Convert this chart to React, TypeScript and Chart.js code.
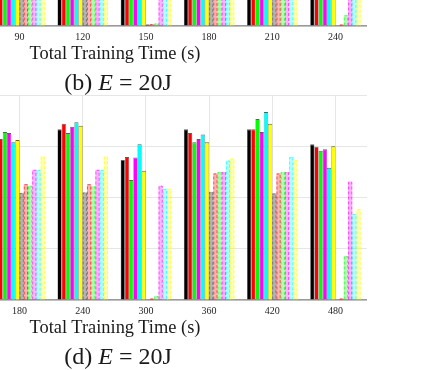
import React, { useEffect, useRef } from 'react';
import { Chart, registerables } from 'chart.js';

Chart.register(...registerables);

// ---------- data ----------
const topLabels = ['90', '120', '150', '180', '210', '240'];
const bottomLabels = ['180', '240', '300', '360', '420', '480'];

const seriesNames = [
  'Scheme 1', 'Scheme 2', 'Scheme 3', 'Scheme 4', 'Scheme 5', 'Scheme 6',
  'Scheme 1 (baseline)', 'Scheme 2 (baseline)', 'Scheme 3 (baseline)',
  'Scheme 4 (baseline)', 'Scheme 5 (baseline)', 'Scheme 6 (baseline)',
];
const seriesColors = ['0,0,0', '255,0,0', '0,255,0', '255,0,255', '0,255,255', '255,255,0'];

// upper panel (b): only the lowest part is visible
const topS1 = [3.1, 3.3, 2.7, 3.3, 3.3, 3.0];
const topS2 = [3.2, 3.4, 2.8, 3.3, 3.3, 3.0];
const topS3 = [3.3, 3.3, 2.3, 3.1, 3.5, 2.9];
const topS4 = [3.2, 3.4, 2.8, 3.1, 3.3, 2.9];
const topS5 = [3.1, 3.4, 3.0, 3.2, 3.7, 2.6];
const topS6 = [3.1, 3.4, 2.5, 3.1, 3.4, 3.0];
const topP1 = [2.1, 2.1, 0.03, 2.1, 2.1, 0];
const topP2 = [2.3, 2.3, 0.04, 2.5, 2.5, 0.03];
const topP3 = [2.2, 2.2, 0.05, 2.5, 2.5, 0.21];
const topP4 = [2.5, 2.5, 2.2, 2.5, 2.5, 2.3];
const topP5 = [2.5, 2.5, 2.2, 2.7, 2.8, 1.7];
const topP6 = [2.8, 2.8, 2.2, 2.8, 2.7, 1.8];

// lower panel (d)
const botS1 = [3.1, 3.33, 2.73, 3.33, 3.33, 3.04];
const botS2 = [3.14, 3.44, 2.79, 3.26, 3.33, 2.99];
const botS3 = [3.28, 3.26, 2.34, 3.08, 3.53, 2.91];
const botS4 = [3.26, 3.38, 2.78, 3.14, 3.28, 2.94];
const botS5 = [3.08, 3.47, 3.04, 3.23, 3.67, 2.58];
const botS6 = [3.12, 3.4, 2.52, 3.08, 3.44, 3.0];
const botP1 = [2.09, 2.1, 0, 2.11, 2.08, 0];
const botP2 = [2.26, 2.26, 0.03, 2.47, 2.47, 0.03];
const botP3 = [2.23, 2.22, 0.08, 2.5, 2.5, 0.86];
const botP4 = [2.54, 2.54, 2.23, 2.5, 2.5, 2.31];
const botP5 = [2.54, 2.54, 2.17, 2.72, 2.79, 1.68];
const botP6 = [2.8, 2.8, 2.17, 2.76, 2.73, 1.77];

const yMin = 0;
const yMax = 4;
const yStep = 1;

// ---------- styling ----------
const SERIF = "'Liberation Serif', 'Times New Roman', serif";

const dashedOutline = {
  id: 'dashedOutline',
  afterDatasetsDraw(chart: any) {
    const { ctx, chartArea } = chart;
    ctx.save();
    ctx.beginPath();
    ctx.rect(chartArea.left, chartArea.top, chartArea.right - chartArea.left, chartArea.bottom - chartArea.top);
    ctx.clip();
    chart.data.datasets.forEach((ds: any, i: number) => {
      if (!ds.dashColor) return;
      const meta = chart.getDatasetMeta(i);
      meta.data.forEach((el: any) => {
        const { x, y, base, width } = el.getProps(['x', 'y', 'base', 'width'], true);
        if (Math.abs(base - y) < 1) return;
        const l = x - width / 2 + 0.5;
        const r = x + width / 2 - 0.5;
        ctx.setLineDash([3, 2]);
        ctx.lineWidth = 1;
        ctx.strokeStyle = ds.dashColor;
        ctx.beginPath();
        ctx.moveTo(l, base);
        ctx.lineTo(l, y + 0.5);
        ctx.lineTo(r, y + 0.5);
        ctx.lineTo(r, base);
        ctx.stroke();
      });
    });
    ctx.restore();
  },
};

function buildConfig(labels: string[], solid: number[][], pale: number[][]): any {
  const datasets: any[] = [];
  solid.forEach((d, k) => {
    datasets.push({
      label: seriesNames[k],
      data: d,
      backgroundColor: `rgb(${seriesColors[k]})`,
      borderColor: 'rgba(40,40,40,0.75)',
      borderWidth: { top: 1, left: 0.5, right: 0.5, bottom: 0 },
    });
  });
  pale.forEach((d, k) => {
    datasets.push({
      label: seriesNames[k + 6],
      data: d,
      backgroundColor: `rgba(${seriesColors[k]},0.3)`,
      borderWidth: 0,
      dashColor: k === 0 ? 'rgba(0,0,0,0.3)' : `rgba(${seriesColors[k]},0.6)`,
    });
  });
  return {
    type: 'bar',
    data: { labels, datasets },
    plugins: [dashedOutline],
    options: {
      responsive: false,
      animation: false,
      devicePixelRatio: 1,
      layout: { padding: { top: 2, left: 0, right: 0, bottom: 0 } },
      datasets: { bar: { categoryPercentage: 0.8, barPercentage: 1.0 } },
      plugins: { legend: { display: false }, tooltip: { enabled: false }, title: { display: false } },
      scales: {
        x: {
          offset: true,
          grid: { offset: false, color: '#e6e6e6', lineWidth: 1, drawTicks: false },
          border: { display: true, color: '#9a9a9a', width: 1.5 },
          ticks: { font: { family: SERIF, size: 10 }, color: '#262626', padding: 5, maxRotation: 0, autoSkip: false },
        },
        y: {
          min: yMin,
          max: yMax,
          ticks: { display: false, stepSize: yStep },
          grid: { color: '#e6e6e6', lineWidth: 1, drawTicks: false },
          border: { display: false },
        },
      },
    },
  };
}

function BarPanel(props: { labels: string[]; solid: number[][]; pale: number[][]; left: number; top: number }) {
  const ref = useRef<HTMLCanvasElement | null>(null);
  useEffect(() => {
    if (!ref.current) return;
    const chart = new Chart(ref.current, buildConfig(props.labels, props.solid, props.pale));
    return () => chart.destroy();
  }, []);
  return (
    <canvas
      ref={ref}
      width={379}
      height={229}
      style={{ position: 'absolute', left: props.left, top: props.top, width: 379, height: 229 }}
    />
  );
}

const textBase: React.CSSProperties = {
  position: 'absolute',
  fontFamily: SERIF,
  color: '#1a1a1a',
  textAlign: 'center',
  whiteSpace: 'nowrap',
  lineHeight: 1,
};

export default function App() {
  return (
    <div
      style={{
        position: 'fixed',
        left: 0,
        top: 0,
        width: 423,
        height: 370,
        overflow: 'hidden',
        background: '#ffffff',
      }}
    >
      <BarPanel
        labels={topLabels}
        solid={[topS1, topS2, topS3, topS4, topS5, topS6]}
        pale={[topP1, topP2, topP3, topP4, topP5, topP6]}
        left={-12}
        top={-181}
      />
      <div style={{ ...textBase, left: 0, width: 230, top: 43.5, fontSize: 18.4 }}>Total Training Time (s)</div>
      <div style={{ ...textBase, left: 0, width: 236, top: 69.5, fontSize: 24 }}>
        (b) <i>E</i> = 20J
      </div>

      <BarPanel
        labels={bottomLabels}
        solid={[botS1, botS2, botS3, botS4, botS5, botS6]}
        pale={[botP1, botP2, botP3, botP4, botP5, botP6]}
        left={-12}
        top={93}
      />
      <div style={{ ...textBase, left: 0, width: 230, top: 317.5, fontSize: 18.4 }}>Total Training Time (s)</div>
      <div style={{ ...textBase, left: 0, width: 236, top: 344, fontSize: 24 }}>
        (d) <i>E</i> = 20J
      </div>
    </div>
  );
}
